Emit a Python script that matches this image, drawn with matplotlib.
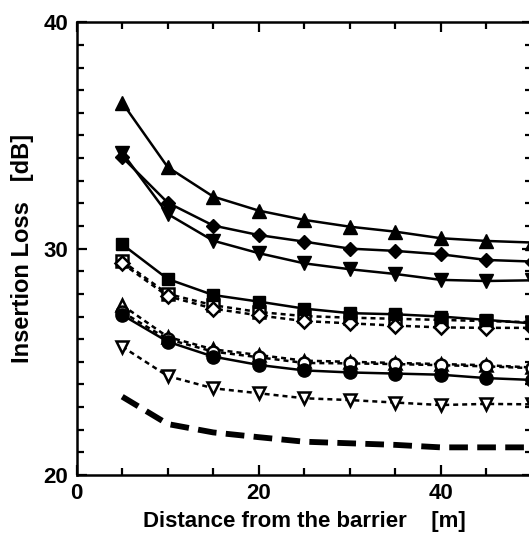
import matplotlib.pyplot as plt

plt.rcParams['font.family'] = ['Liberation Sans', 'DejaVu Sans']
plt.rcParams['font.weight'] = 'bold'

# distance from the barrier (m)
dist = [5, 10, 15, 20, 25, 30, 35, 40, 45, 50]

# insertion loss (dB)
tri_up_f = [36.45, 33.6, 32.3, 31.68, 31.27, 30.97, 30.75, 30.46, 30.34, 30.27]
diam_f = [34.04, 32.03, 31.02, 30.6, 30.31, 30.0, 29.9, 29.75, 29.5, 29.43]
tri_dn_f = [34.24, 31.53, 30.35, 29.8, 29.35, 29.09, 28.88, 28.62, 28.57, 28.6]
square_f = [30.19, 28.66, 27.95, 27.66, 27.35, 27.15, 27.1, 27.0, 26.85, 26.7]
circle_f = [27.07, 25.89, 25.23, 24.86, 24.62, 24.53, 24.48, 24.43, 24.28, 24.2]

square_o = [29.45, 28.0, 27.5, 27.2, 27.02, 26.95, 26.9, 26.85, 26.8, 26.75]
diam_o = [29.35, 27.9, 27.35, 27.05, 26.8, 26.7, 26.6, 26.52, 26.5, 26.5]
tri_up_o = [27.5, 26.1, 25.55, 25.3, 25.05, 25.0, 24.95, 24.9, 24.85, 24.75]
circle_o = [27.2, 26.0, 25.45, 25.2, 24.95, 24.93, 24.9, 24.85, 24.8, 24.72]
tri_dn_o = [25.67, 24.37, 23.83, 23.61, 23.39, 23.31, 23.2, 23.09, 23.14, 23.12]

no_barrier = [23.46, 22.25, 21.88, 21.67, 21.47, 21.4, 21.33, 21.22, 21.22, 21.22]

fig = plt.figure(figsize=(5.29, 5.37), dpi=100)
ax = fig.add_axes([0.145, 0.1155, 0.8602, 0.843])

dot = (0, (2.0, 1.6))
lw = 1.8

# dashed curves with open markers
for vals, mk, ms in [(square_o, 's', 8), (diam_o, 'D', 7.5), (tri_up_o, '^', 9),
                     (circle_o, 'o', 8.5), (tri_dn_o, 'v', 9)]:
    ax.plot(dist, vals, linestyle=dot, color='black', linewidth=lw, marker=mk,
            markersize=ms, markerfacecolor='white', markeredgecolor='black',
            markeredgewidth=1.8, clip_on=False)

# solid curves with filled markers
for vals, mk, ms in [(tri_up_f, '^', 10), (diam_f, 'D', 7.5), (tri_dn_f, 'v', 10),
                     (square_f, 's', 8), (circle_f, 'o', 9.5)]:
    ax.plot(dist, vals, linestyle='-', color='black', linewidth=lw, marker=mk,
            markersize=ms, markerfacecolor='black', markeredgecolor='black',
            clip_on=False)

# thick dashed curve, no markers
ax.plot(dist, no_barrier, linestyle=(0, (3.2, 1.6)), color='black', linewidth=4.2)

ax.set_xlim(0, 50)
ax.set_ylim(20, 40)
ax.set_xticks([0, 20, 40])
ax.set_xticks(range(0, 51, 5), minor=True)
ax.set_yticks([20, 30, 40])
ax.set_yticks(range(20, 41, 1), minor=True)
ax.tick_params(which='both', direction='in', top=True, right=True, width=1.6,
               labelsize=16, pad=6)
ax.tick_params(which='major', length=7)
ax.tick_params(which='minor', length=5)
for lab in ax.get_xticklabels() + ax.get_yticklabels():
    lab.set_fontweight('bold')
for sp in ax.spines.values():
    sp.set_linewidth(1.8)

ax.set_xlabel("Distance from the barrier    [m]", fontsize=16, fontweight='bold', labelpad=5)
ax.set_ylabel("Insertion Loss   [dB]", fontsize=17, fontweight='bold', labelpad=7)

fig.savefig("out.png", dpi=100)
